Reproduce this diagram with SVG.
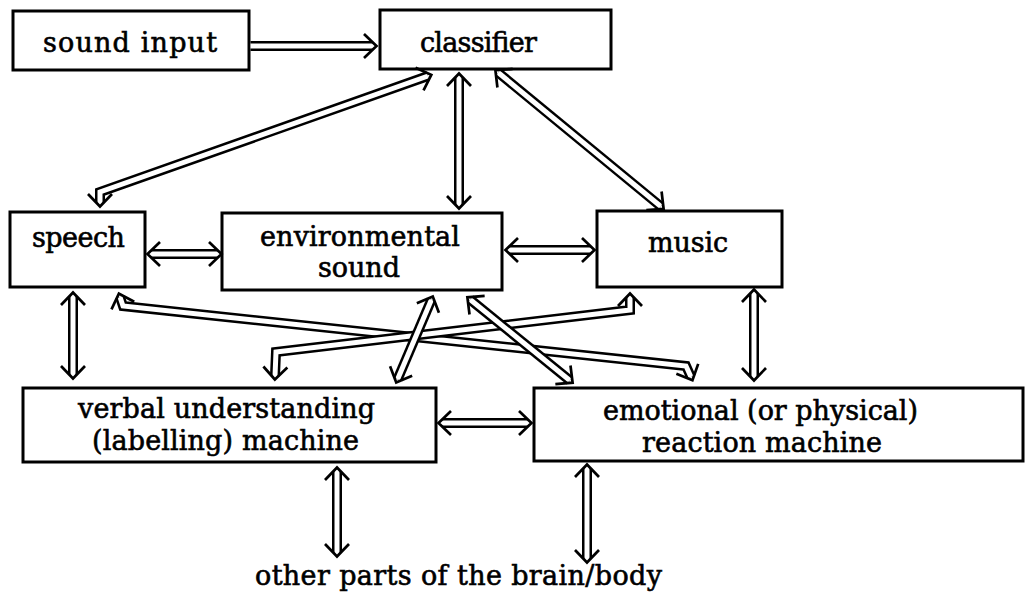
<svg xmlns="http://www.w3.org/2000/svg" width="1030" height="593" viewBox="0 0 1030 593">
<style>
.box{fill:#fff;stroke:#000;stroke-width:3}
.t{font-family:"DejaVu Serif","Liberation Serif",serif;font-size:27px;fill:#000;stroke:#000;stroke-width:0.6}
.o{fill:none;stroke:#000;stroke-width:10;stroke-linejoin:miter}
.i{fill:none;stroke:#fff;stroke-width:5;stroke-linejoin:miter}
</style>
<defs>
<marker id="ah" markerUnits="userSpaceOnUse" viewBox="-14 -16 24 32" markerWidth="24" markerHeight="32" refX="0" refY="0" orient="auto-start-reverse" overflow="visible">
<path d="M-9,-12 L3.5,0 L-9,12" fill="none" stroke="#000" stroke-width="2.7"/>
</marker>
</defs>
<rect width="1030" height="593" fill="#fff"/>

<g id="n-sound-input"><rect class="box" x="13" y="11" width="236" height="59"/><text class="t" x="43" y="52" textLength="174">sound input</text></g>
<g id="n-classifier"><rect class="box" x="380" y="10" width="231" height="59"/><text class="t" x="420" y="52" textLength="117">classifier</text></g>
<g id="n-speech"><rect class="box" x="10" y="212" width="135" height="75"/><text class="t" x="32" y="247" textLength="93">speech</text></g>
<g id="n-env"><rect class="box" x="222" y="213" width="280" height="77"/><text class="t" x="260" y="246" textLength="200">environmental</text><text class="t" x="318" y="277" textLength="82">sound</text></g>
<g id="n-music"><rect class="box" x="597" y="211" width="185" height="76"/><text class="t" x="648" y="252" textLength="80">music</text></g>
<g id="n-verbal"><rect class="box" x="23" y="388" width="413" height="74"/><text class="t" x="78" y="418" textLength="297">verbal understanding</text><text class="t" x="92" y="450" textLength="267">(labelling) machine</text></g>
<g id="n-emotional"><rect class="box" x="534" y="388" width="489" height="73"/><text class="t" x="603" y="420" textLength="315">emotional (or physical)</text><text class="t" x="642" y="452" textLength="240">reaction machine</text></g>
<g id="n-other"><text class="t" x="255" y="585" textLength="407">other parts of the brain/body</text></g>

<g id="connectors">
<g id="e-speech-emotional"><path class="o" d="M120,297 L123,306 L686,366 L691,377"/><path class="i" d="M120,297 L123,306 L686,366 L691,377" marker-start="url(#ah)" marker-end="url(#ah)"/></g>
<g id="e-music-verbal"><path class="o" d="M630,297 L630,310 L276,352 L275,376"/><path class="i" d="M630,297 L630,310 L276,352 L275,376" marker-start="url(#ah)" marker-end="url(#ah)"/></g>
<g id="e-env-verbal"><path class="o" d="M431.4,299.7 L397.6,379.3"/><path class="i" d="M431.4,299.7 L397.6,379.3" marker-start="url(#ah)" marker-end="url(#ah)"/></g>
<g id="e-env-emotional"><path class="o" d="M470.1,299.5 L569.9,380.5"/><path class="i" d="M470.1,299.5 L569.9,380.5" marker-start="url(#ah)" marker-end="url(#ah)"/></g>
<g id="e-input-classifier"><path class="o" d="M250.5,46 L373,46"/><path class="i" d="M250.5,46 L373,46" marker-end="url(#ah)"/></g>
<g id="e-classifier-speech"><path class="o" d="M100,203 L100,192 L428,76"/><path class="i" d="M100,203 L100,192 L428,76" marker-start="url(#ah)" marker-end="url(#ah)"/></g>
<g id="e-classifier-env"><path class="o" d="M459,77 L459,205"/><path class="i" d="M459,77 L459,205" marker-start="url(#ah)" marker-end="url(#ah)"/></g>
<g id="e-classifier-music"><path class="o" d="M498.1,72.5 L660.9,206.5"/><path class="i" d="M498.1,72.5 L660.9,206.5" marker-start="url(#ah)" marker-end="url(#ah)"/></g>
<g id="e-speech-env"><path class="o" d="M151,254 L218,254"/><path class="i" d="M151,254 L218,254" marker-start="url(#ah)" marker-end="url(#ah)"/></g>
<g id="e-env-music"><path class="o" d="M509,250 L591,250"/><path class="i" d="M509,250 L591,250" marker-start="url(#ah)" marker-end="url(#ah)"/></g>
<g id="e-speech-verbal"><path class="o" d="M73,296 L73,375"/><path class="i" d="M73,296 L73,375" marker-start="url(#ah)" marker-end="url(#ah)"/></g>
<g id="e-music-emotional"><path class="o" d="M754,293 L754,377"/><path class="i" d="M754,293 L754,377" marker-start="url(#ah)" marker-end="url(#ah)"/></g>
<g id="e-verbal-emotional"><path class="o" d="M442,423 L528,423"/><path class="i" d="M442,423 L528,423" marker-start="url(#ah)" marker-end="url(#ah)"/></g>
<g id="e-verbal-other"><path class="o" d="M337,471 L337,553"/><path class="i" d="M337,471 L337,553" marker-start="url(#ah)" marker-end="url(#ah)"/></g>
<g id="e-emotional-other"><path class="o" d="M587,468 L587,559"/><path class="i" d="M587,468 L587,559" marker-start="url(#ah)" marker-end="url(#ah)"/></g>
</g>
</svg>
